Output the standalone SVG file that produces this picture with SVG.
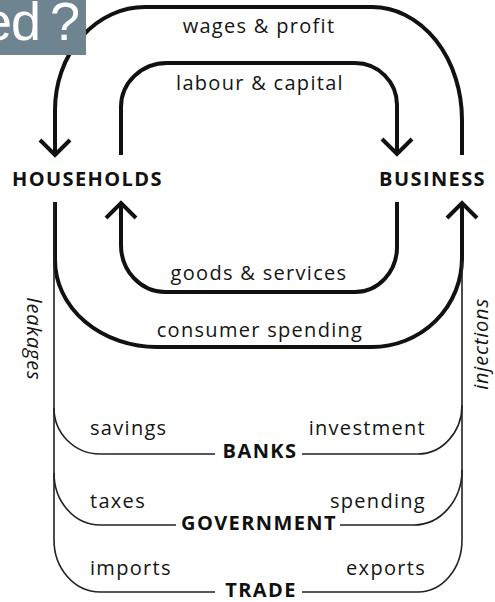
<svg xmlns="http://www.w3.org/2000/svg" width="495" height="602" viewBox="0 0 495 602">
  <style>
    .flow { fill: none; stroke: #111; stroke-width: 4; }
    .leak { fill: none; stroke: #222; stroke-width: 1.6; }
    .lbl { font-family: "Open Sans", "DejaVu Sans", sans-serif; font-size: 20px; letter-spacing: 1.3px; fill: #141414; }
    .node { font-family: "Open Sans", "DejaVu Sans", sans-serif; font-size: 20px; font-weight: 700; letter-spacing: 1.4px; fill: #111; }
    .side { font-family: "Open Sans", "DejaVu Sans", sans-serif; font-size: 20px; font-style: italic; letter-spacing: 0.8px; fill: #141414; }
  </style>
  <defs>
    <marker id="arrow" markerUnits="userSpaceOnUse" viewBox="-18 -18 22 36" markerWidth="22" markerHeight="36" refX="0" refY="0" orient="auto">
      <path d="M -15 -15 L 0 0 L -15 15" fill="none" stroke="#111" stroke-width="4"/>
    </marker>
  </defs>

  <rect width="495" height="602" fill="#ffffff"/>

  <!-- connectors -->
  <g id="connectors">
    <!-- wages & profit: business to households -->
    <path class="flow" d="M 462 155 V 120 A 90 113 0 0 0 372 7 H 145 A 90 103 0 0 0 55 110 V 155" marker-end="url(#arrow)"/>
    <!-- labour & capital: households to business -->
    <path class="flow" d="M 121 155 V 107 A 46 44 0 0 1 167 63 H 355 A 42 42 0 0 1 397 105 V 154" marker-end="url(#arrow)"/>
    <!-- goods & services: business to households -->
    <path class="flow" d="M 397 202 V 247 A 42 45 0 0 1 355 292 H 165 A 44 47 0 0 1 121 245 V 203" marker-end="url(#arrow)"/>
    <!-- consumer spending: households to business -->
    <path class="flow" d="M 55 202 V 260 A 102 87 0 0 0 157 347 H 372 A 90 89 0 0 0 462 258 V 203" marker-end="url(#arrow)"/>

    <!-- leakages trunk and injections trunk -->
    <path class="leak" d="M 54 202 V 540 A 46 52 0 0 0 100 592 H 215"/>
    <path class="leak" d="M 302 592 H 418 A 44 52 0 0 0 462 540 V 262"/>

    <!-- banks -->
    <path class="leak" d="M 54 408 A 46 46 0 0 0 100 454 H 215"/>
    <path class="leak" d="M 302 454 H 418 A 44 49 0 0 0 462 405"/>
    <!-- government -->
    <path class="leak" d="M 54 473 A 46 52 0 0 0 100 525 H 176"/>
    <path class="leak" d="M 340 525 H 414 A 48 55 0 0 0 462 470"/>

    <!-- flow labels -->
    <text class="lbl" x="259" y="33" text-anchor="middle">wages &amp; profit</text>
    <text class="lbl" x="260" y="90" text-anchor="middle">labour &amp; capital</text>
    <text class="lbl" x="259" y="280" text-anchor="middle">goods &amp; services</text>
    <text class="lbl" x="260" y="337" text-anchor="middle">consumer spending</text>
    <text class="lbl" x="90" y="435">savings</text>
    <text class="lbl" x="426" y="435" text-anchor="end">investment</text>
    <text class="lbl" x="90" y="508">taxes</text>
    <text class="lbl" x="426" y="508" text-anchor="end">spending</text>
    <text class="lbl" x="90" y="575">imports</text>
    <text class="lbl" x="426" y="575" text-anchor="end">exports</text>
    <text class="side" transform="translate(27 339) rotate(90)" text-anchor="middle">leakages</text>
    <text class="side" transform="translate(488 344) rotate(-90)" text-anchor="middle">injections</text>
  </g>

  <!-- nodes -->
  <g id="households"><text class="node" x="12" y="186">HOUSEHOLDS</text></g>
  <g id="business"><text class="node" x="486" y="186" text-anchor="end">BUSINESS</text></g>
  <g id="banks"><text class="node" x="260" y="458" text-anchor="middle">BANKS</text></g>
  <g id="government"><text class="node" x="259" y="530" text-anchor="middle">GOVERNMENT</text></g>
  <g id="trade"><text class="node" x="261" y="597" text-anchor="middle">TRADE</text></g>

  <!-- caption tab in the corner -->
  <g id="tab">
    <rect x="0" y="0" width="86" height="55" fill="#6e8591"/>
    <text x="-18 11 50" y="40" font-family="Liberation Sans, Arial, sans-serif" font-size="54" fill="#ffffff">ed?</text>
  </g>
</svg>
